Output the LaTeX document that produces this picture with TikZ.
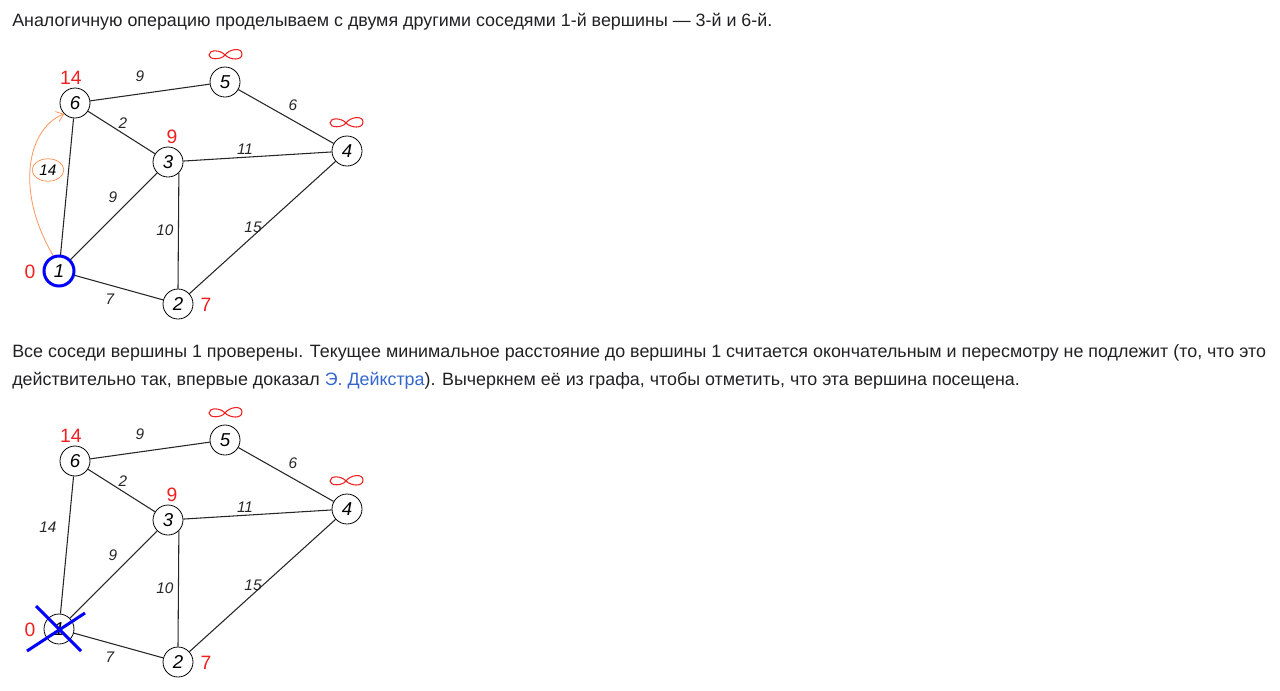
\documentclass[tikz,border=0pt]{standalone}
\usepackage{fontspec}
\setmainfont{Liberation Sans}
\usetikzlibrary{shapes.geometric, arrows.meta}

\definecolor{distred}{RGB}{238,32,32}
\definecolor{arcorange}{RGB}{250,150,90}
\definecolor{linkblue}{RGB}{51,102,204}
\definecolor{textgray}{RGB}{32,33,34}

\tikzset{
  vertex/.style={circle, draw, line width=0.6pt, minimum size=22.5pt, inner sep=0pt,
    font=\itshape\fontsize{14}{16}\selectfont},
  lbl/.style={font=\itshape\fontsize{11.5}{13}\selectfont, inner sep=0pt},
  dist/.style={text=distred, font=\fontsize{14.5}{16}\selectfont, inner sep=0pt},
  edge/.style={line width=0.8pt, color=black!85},
  para/.style={anchor=west, text=textgray, font=\fontsize{13.4}{16}\selectfont, inner sep=0pt},
  visited/.style={blue, line width=2.25pt},
  infty/.pic={
    \draw[distred, line width=0.8pt] (0,0) .. controls (4,-6) and (17,-8) .. (17,-1)
      .. controls (17,6) and (5,5) .. (0,0)
      .. controls (-4,-5) and (-16,-6) .. (-16,0)
      .. controls (-16,5) and (-4,5) .. (0,0);
  }
}

\begin{document}
\begin{tikzpicture}[x=0.75pt, y=-0.75pt]
  \useasboundingbox (0,0) rectangle (1280,690);

  % text
  \node[para] (t1) at (12,22) {Аналогичную операцию проделываем с двумя другими соседями 1-й вершины — 3-й и 6-й.};
  \node[para] (t2) at (12,353) {Все соседи вершины 1 проверены. Текущее минимальное расстояние до вершины 1 считается окончательным и пересмотру не подлежит (то, что это};
  \node[para] (t3) at (12,381) {действительно так, впервые доказал \textcolor{linkblue}{Э. Дейкстра}). Вычеркнем её из графа, чтобы отметить, что эта вершина посещена.};

  % both graphs
  \foreach \g/\dy in {a/0, b/358}{
    \node[vertex] (\g6) at (75,103+\dy) {6};
    \node[vertex] (\g5) at (225,82+\dy) {5};
    \node[vertex] (\g4) at (347,151+\dy) {4};
    \node[vertex] (\g3) at (168,162+\dy) {3};
    \node[vertex] (\g1) at (59,271+\dy) {1};
    \node[vertex] (\g2) at (178,304+\dy) {2};

    \foreach \u/\v/\w/\lx/\ly in {6/5/9/140/76, 5/4/6/293/105, 6/3/2/123/123, 3/4/11/245/149,
        1/3/9/113/197, 2/4/15/253/227, 1/2/7/110/299}
      \draw[edge] (\g\u) -- (\g\v) node[lbl] at (\lx,\ly+\dy) {\w};
    \draw[edge] (\g3.-45) -- (\g2.north) node[lbl] at (165,230+\dy) {10};

    \node[dist] (\g d6) at (71,78+\dy) {14};
    \node[dist] (\g d3) at (172,137+\dy) {9};
    \node[dist] (\g d1) at (30,272+\dy) {0};
    \node[dist] (\g d2) at (206,305+\dy) {7};
    \pic at (225,55+\dy) {infty};
    \pic at (346,123+\dy) {infty};
  }

  % top: edge 1-6 with circled weight and arrow
  \draw[edge] (a1) -- (a6);
  \node[lbl, draw=arcorange, ellipse, inner sep=2pt, line width=0.6pt] (w16) at (48,170) {14};
  \draw[arcorange, line width=0.6pt, -{Straight Barb[length=5pt, width=8pt]}]
    (a1.110) .. controls (14,190) and (28,128) .. (a6.south west);
  \draw[visited] (a1) circle (11.25pt);

  % bottom: edge 1-6, vertex 1 crossed out
  \draw[edge] (b1) -- (b6) node[lbl] at (48,527) {14};
  \draw[visited] ([shift={(-23,-23)}]b1.center) -- ([shift={(22,22)}]b1.center);
  \draw[visited] ([shift={(-32,22)}]b1.center) -- ([shift={(26,-16)}]b1.center);
\end{tikzpicture}
\end{document}
